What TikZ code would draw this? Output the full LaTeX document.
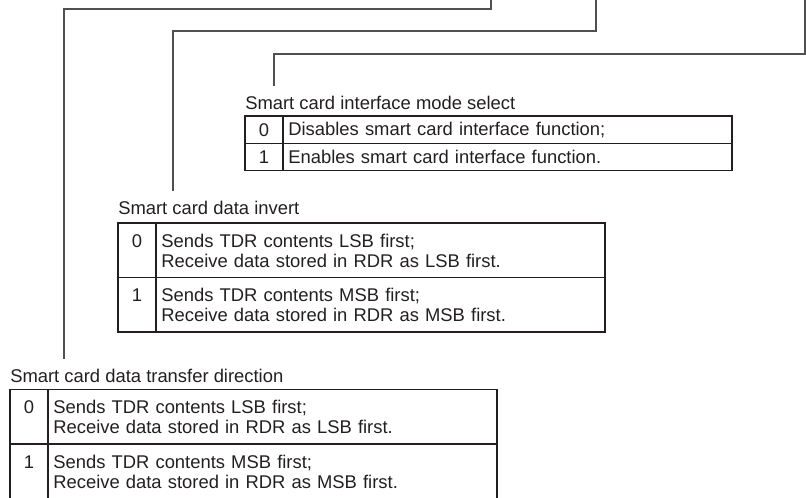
\documentclass[tikz,border=0pt]{standalone}
\usepackage{fontspec}
\setmainfont{Liberation Sans}
\usepackage{tikz}
\usetikzlibrary{positioning}
\definecolor{wiregray}{RGB}{80, 80, 80}
\definecolor{inkblack}{RGB}{35, 31, 32}
\newcommand{\regfont}{\fontsize{13.8pt}{15pt}\selectfont}
\tikzset{
    wire/.style={draw=wiregray, line width=0.8pt},
    title/.style={anchor=west, inner xsep=0pt, inner ysep=7.5pt, font=\regfont, text=inkblack},
    numcell/.style={draw=inkblack, line width=0.85pt, anchor=north west, text width=28.5pt, inner sep=0pt, outer sep=0pt, align=center, font=\regfont, text=inkblack},
    textcell/.style={draw=inkblack, line width=0.85pt, inner xsep=4pt, inner ysep=0pt, outer sep=0pt, text width=328.75pt, align=left, font=\regfont, text=inkblack},
    onerow/.style={minimum height=20.6pt},
    tworow/.style={minimum height=40.9pt, text height=10.5pt, text depth=15pt}
}

\begin{document}
\begin{tikzpicture}[x=0.75pt, y=-0.75pt]
    % Page
    \useasboundingbox (0,0) rectangle (806,498);

    % Interface mode select
    \node[title] (seltitle) at (245,103) {Smart card interface mode select};
    \node[numcell, onerow] (selnum0) at (245,116) {0};
    \node[textcell, onerow, right=0pt of selnum0] (seltext0) {Disables smart card interface function;};
    \node[numcell, onerow, below=0pt of selnum0] (selnum1) {1};
    \node[textcell, onerow, right=0pt of selnum1] (seltext1) {Enables smart card interface function.};

    % Data invert
    \node[title] (invtitle) at (118,208) {Smart card data invert};
    \node[numcell, tworow] (invnum0) at (118,223) {0};
    \node[textcell, tworow, right=0pt of invnum0] (invtext0) {Sends TDR contents LSB first;\\Receive data stored in RDR as LSB first.};
    \node[numcell, tworow, below=0pt of invnum0] (invnum1) {1};
    \node[textcell, tworow, right=0pt of invnum1] (invtext1) {Sends TDR contents MSB first;\\Receive data stored in RDR as MSB first.};

    % Transfer direction
    \node[title] (dirtitle) at (10,376) {Smart card data transfer direction};
    \node[numcell, tworow] (dirnum0) at (10,389.5) {0};
    \node[textcell, tworow, right=0pt of dirnum0] (dirtext0) {Sends TDR contents LSB first;\\Receive data stored in RDR as LSB first.};
    \node[numcell, tworow, below=0pt of dirnum0] (dirnum1) {1};
    \node[textcell, tworow, right=0pt of dirnum1] (dirtext1) {Sends TDR contents MSB first;\\Receive data stored in RDR as MSB first.};

    % Leads from the register bits
    \coordinate (bitA) at (491,0);
    \coordinate (kneeA) at (64,9);
    \coordinate (bitB) at (596,0);
    \coordinate (kneeB) at (173,31);
    \coordinate (bitC) at (805,0);
    \coordinate (kneeC) at (274,54);
    \draw[wire] (bitA) |- (kneeA) -- (kneeA |- dirtitle.north);
    \draw[wire] (bitB) |- (kneeB) -- (kneeB |- invtitle.north);
    \draw[wire] (bitC) |- (kneeC) -- (kneeC |- seltitle.north);
\end{tikzpicture}
\end{document}
